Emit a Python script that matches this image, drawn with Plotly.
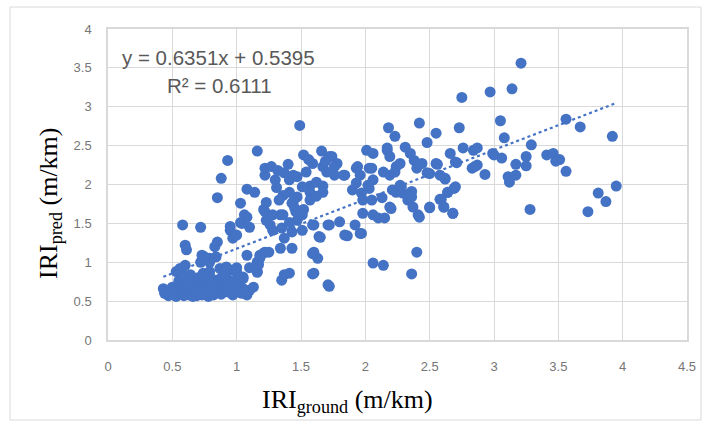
import plotly.graph_objects as go

# ---- data (IRI ground vs IRI predicted, m/km) ----
low_x = [0.43,0.44,0.47,0.48,0.50,0.52,0.53,0.54,0.56,0.57,0.58,0.59,0.60,0.61,0.62,0.63,0.64,0.65,0.66,0.67,
         0.68,0.69,0.70,0.71,0.72,0.73,0.74,0.75,0.76,0.77,0.78,0.79,0.80,0.81,0.82,0.83,0.84,0.85,0.86,0.88,
         0.89,0.90,0.92,0.94,0.96,0.98,1.00,1.02,1.04,1.05,1.08,1.10,1.13,0.55,0.62,0.70,0.74,0.79,0.88,0.93,
         0.57,0.53,0.56,0.60,0.64,0.72,0.73,0.79,0.84,0.60,0.61,0.87,0.79,0.95,1.00,1.05,1.00,0.91,1.10,1.16,
         1.18,1.16,1.22,0.85,0.83,0.75,0.79,0.46,0.51,0.66,0.71,0.77,0.83,0.97,1.07]
low_y = [0.66,0.60,0.57,0.63,0.68,0.60,0.56,0.65,0.71,0.60,0.64,0.57,0.68,0.73,0.62,0.58,0.66,0.70,0.60,0.75,
         0.63,0.57,0.67,0.61,0.72,0.58,0.64,0.69,0.60,0.74,0.56,0.66,0.62,0.70,0.58,0.64,0.77,0.61,0.68,0.59,
         0.65,0.71,0.62,0.67,0.60,0.65,0.62,0.70,0.60,0.66,0.58,0.64,0.68,0.76,0.79,0.80,0.86,0.82,0.80,0.78,
         0.88,0.88,0.92,0.96,0.84,1.00,1.09,1.05,1.07,1.22,1.16,0.92,0.88,0.90,0.87,0.79,0.74,0.84,0.93,1.00,
         1.09,0.87,1.13,1.26,1.20,1.07,1.00,0.62,0.58,0.56,0.62,0.58,0.66,0.58,0.62]

mid_x = [0.92,1.00,1.05,0.99,0.95,0.97,1.00,1.08,1.16,1.17,1.18,1.21,1.25,1.35,1.37,1.34,1.43,1.60,1.71,1.60,
         1.63,1.64,1.60,1.71,1.21,1.23,1.28,1.37,1.43,1.47,1.52,1.51,1.35,1.34,1.23,1.03,1.04,1.08,0.95,0.58,
         0.72,0.85,0.88,0.93,1.16,1.49,1.08,1.14,1.06,1.22,1.22,1.30,1.37,1.44,1.31,1.36,1.41,1.33,1.44,1.22,
         1.28,1.36,1.46,1.03,1.10,1.26,1.41,1.59,1.59,1.41,1.65,1.86,1.97,1.27,1.32,1.40]
mid_y = [0.94,0.93,0.81,0.77,1.41,1.31,1.35,1.09,0.88,0.97,1.05,1.12,1.13,0.77,0.84,1.18,1.18,0.86,0.71,1.13,
         1.05,1.33,1.48,1.48,1.68,1.54,1.41,1.31,1.39,1.54,1.68,1.41,1.44,1.61,1.77,1.76,1.50,1.58,1.46,1.48,
         1.45,1.83,2.08,2.31,2.43,2.76,1.94,1.90,1.61,2.21,2.12,2.06,2.15,2.12,1.96,1.86,1.90,1.80,1.78,1.65,
         1.61,1.61,1.65,1.51,1.45,1.48,1.51,0.85,1.11,0.86,1.32,1.34,1.37,2.23,2.18,2.26]

up_x = [1.52,1.66,1.74,1.78,2.01,2.06,2.17,2.19,2.31,2.35,2.38,2.44,2.40,2.55,1.54,1.59,1.41,1.47,1.67,1.70,
        1.76,1.84,1.93,1.96,2.03,2.14,2.19,2.24,2.27,1.57,1.62,1.67,1.67,1.62,1.57,1.57,1.51,1.47,1.43,1.45,
        1.51,1.59,1.72,1.80,1.92,1.84,1.96,1.90,1.93,1.97,1.98,2.05,2.13,1.98,2.06,2.10,2.03,2.06,2.21,2.27,
        2.29,2.36,2.33,2.37,2.50,2.41,2.19,2.15,2.20,2.42,2.61,2.68,2.24,2.28,2.36,2.58,2.64,2.69,2.62,2.50,
        1.83,2.02,2.18,2.23,2.42,2.55,2.48,1.72,1.76,1.94,2.05,2.17,2.23,2.56,2.66,2.70,1.69,1.56]
up_y = [2.38,2.43,2.36,2.27,2.44,2.40,2.44,2.36,2.48,2.40,2.31,2.27,2.21,2.27,2.16,2.27,2.06,2.10,2.23,2.16,
        2.12,2.12,2.21,2.12,2.21,2.16,2.12,2.23,2.27,1.98,2.03,1.98,1.90,1.85,1.90,1.80,1.97,1.84,1.76,1.70,
        1.61,1.48,1.48,1.52,1.48,1.35,1.37,1.93,2.02,1.89,1.80,1.80,1.83,1.63,1.61,1.57,1.95,2.06,1.93,1.99,
        1.89,1.91,1.80,1.71,1.71,1.61,1.71,1.57,1.69,1.58,1.71,1.63,1.90,1.97,1.84,1.81,1.90,1.95,2.07,2.14,
        2.12,1.99,2.73,2.62,2.79,2.66,2.54,2.36,2.23,2.23,2.21,2.47,2.16,2.26,2.40,2.29,2.30,2.32]

right_x = [2.75,2.97,3.14,3.21,3.05,3.08,3.29,3.56,3.67,3.92,3.56,3.51,3.95,3.81,3.87,3.73,2.73,2.84,2.71,3.25,
           3.25,3.17,3.41,3.46,3.48,2.58,2.62,2.83,2.87,3.11,3.12,3.17,2.70,2.64,2.59,2.61,2.68,2.50,3.28,2.40,
           2.06,2.14,2.36,1.72,2.76,2.87,2.85,2.93,2.99,3.06,2.48,3.00]
right_y = [3.12,3.19,3.23,3.56,2.82,2.60,2.51,2.84,2.74,2.62,2.17,2.32,1.98,1.89,1.78,1.65,2.73,2.44,2.28,2.36,
           2.24,2.26,2.38,2.40,2.30,2.12,2.08,2.21,2.25,2.10,2.03,2.12,1.97,1.90,1.81,1.71,1.63,1.70,1.68,1.13,
           0.99,0.96,0.85,0.69,2.47,2.47,2.23,2.13,2.40,2.34,2.15,2.38]

iri_ground = low_x + mid_x + up_x + right_x
iri_pred = low_y + mid_y + up_y + right_y

slope, intercept, r2 = 0.6351, 0.5395, 0.6111
trend_x = [0.43, 3.95]
trend_y = [slope * v + intercept for v in trend_x]

x_ticks = [0, 0.5, 1, 1.5, 2, 2.5, 3, 3.5, 4, 4.5]
y_ticks = [0, 0.5, 1, 1.5, 2, 2.5, 3, 3.5, 4]

blue = "#4472C4"
grid = "#d9d9d9"
tick_font = dict(family="Liberation Sans", size=13, color="#767676")
eq_font = dict(family="Liberation Sans", size=20.5, color="#595959")
title_font = dict(family="Liberation Serif", size=26, color="black")

fig = go.Figure()
fig.add_trace(go.Scatter(x=iri_ground, y=iri_pred, mode="markers",
                         marker=dict(size=11, color=blue, line=dict(width=0)),
                         showlegend=False, hoverinfo="skip"))
fig.add_trace(go.Scatter(x=trend_x, y=trend_y, mode="lines",
                         line=dict(color=blue, width=2.2, dash="dot"),
                         showlegend=False, hoverinfo="skip"))

L, R, T, B = 108, 22, 29, 91
W, H = 709, 431
pw, ph = W - L - R, H - T - B

def px(xp):
    return (xp - L) / pw

def py(yp):
    return (H - B - yp) / ph

fig.update_layout(
    width=W, height=H,
    margin=dict(l=L, r=R, t=T, b=B, pad=0),
    paper_bgcolor="white", plot_bgcolor="white",
    xaxis=dict(range=[0, 4.5], tickvals=x_ticks, ticktext=[f"{v:g}" for v in x_ticks],
               showgrid=True, gridcolor=grid, gridwidth=1.3, zeroline=False,
               showline=True, linecolor=grid, linewidth=1.5, mirror=True,
               ticks="", tickfont=tick_font, ticklabelstandoff=14, fixedrange=True),
    yaxis=dict(range=[0, 4], tickvals=y_ticks, ticktext=[f"{v:g}" for v in y_ticks],
               showgrid=True, gridcolor=grid, gridwidth=1.3, zeroline=False,
               showline=True, linecolor=grid, linewidth=1.5, mirror=True,
               ticks="", tickfont=tick_font, ticklabelstandoff=12, fixedrange=True),
    shapes=[dict(type="rect", xref="paper", yref="paper",
                 x0=px(10), x1=px(701), y0=py(420), y1=py(7),
                 line=dict(color="#d9d9d9", width=1), layer="below")],
    annotations=[
        dict(text="y = 0.6351x + 0.5395", xref="paper", yref="paper", x=px(218), y=py(57),
             showarrow=False, xanchor="center", yanchor="middle", font=eq_font),
        dict(text=f"R² = {r2}", xref="paper", yref="paper", x=px(219), y=py(85),
             showarrow=False, xanchor="center", yanchor="middle", font=eq_font),
        dict(text="IRI<sub>ground</sub> (m/km)", xref="paper", yref="paper", x=px(347), y=py(401),
             showarrow=False, xanchor="center", yanchor="middle", font=title_font),
        dict(text="IRI<sub>pred</sub> (m/km)", xref="paper", yref="paper", x=px(50), y=py(203),
             showarrow=False, xanchor="center", yanchor="middle", textangle=-90, font=title_font),
    ],
)

fig.write_html("out.html")
